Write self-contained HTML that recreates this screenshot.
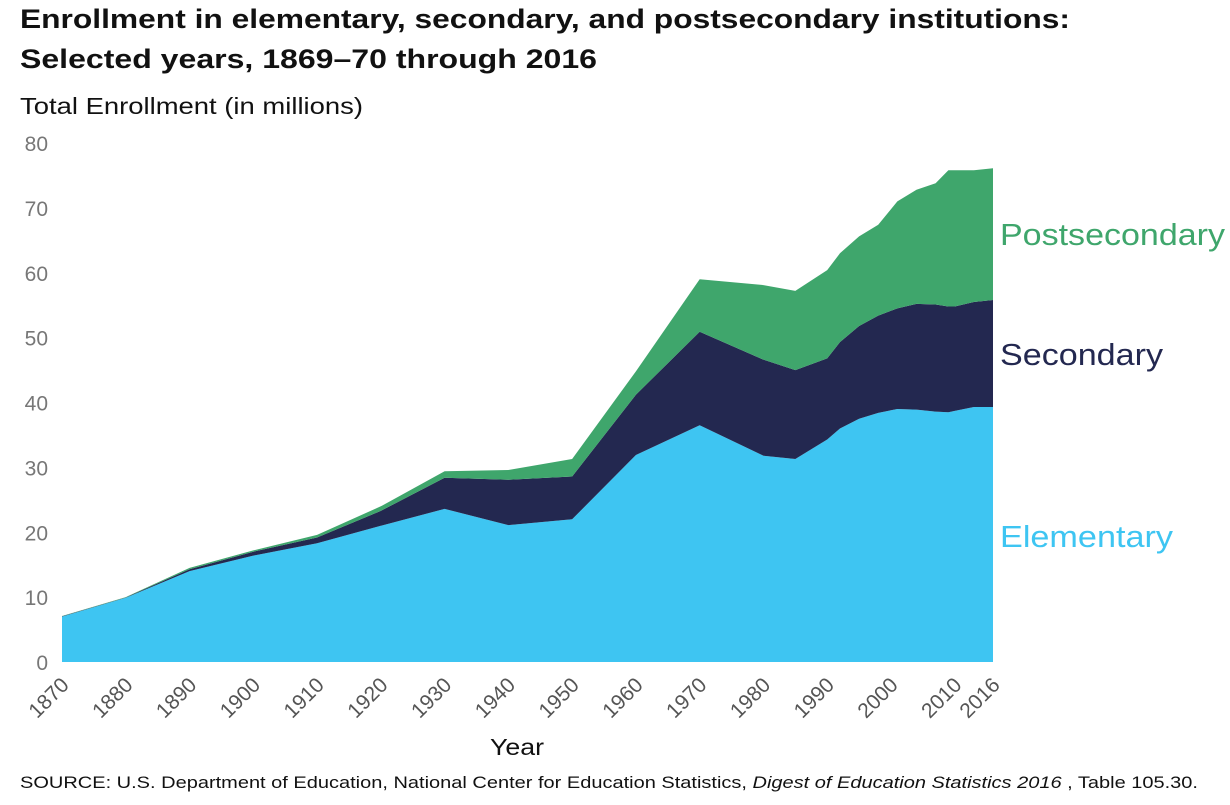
<!DOCTYPE html>
<html><head><meta charset="utf-8"><style>
body{margin:0;background:#fff;width:1230px;height:800px;overflow:hidden;font-family:"Liberation Sans",sans-serif}
svg text{font-family:"Liberation Sans",sans-serif}
</style></head><body>
<svg id="chart" width="1230" height="800">
<text x="20" y="28" font-size="27" font-weight="bold" fill="#111" textLength="1050" lengthAdjust="spacingAndGlyphs">Enrollment in elementary, secondary, and postsecondary institutions:</text>
<text x="20" y="68" font-size="27" font-weight="bold" fill="#111" textLength="577" lengthAdjust="spacingAndGlyphs">Selected years, 1869–70 through 2016</text>
<text x="20" y="114" font-size="23" fill="#111" textLength="343" lengthAdjust="spacingAndGlyphs">Total Enrollment (in millions)</text>
<g id="yticks"></g><g id="areas"></g><g id="xticks"></g>
<text x="490" y="755" font-size="23" fill="#111" textLength="54" lengthAdjust="spacingAndGlyphs">Year</text>
<text x="1000" y="245" font-size="31" fill="#3fa66c" textLength="225" lengthAdjust="spacingAndGlyphs">Postsecondary</text>
<text x="1000" y="365" font-size="31" fill="#232850" textLength="163" lengthAdjust="spacingAndGlyphs">Secondary</text>
<text x="1000" y="547" font-size="31" fill="#3ec5f2" textLength="173" lengthAdjust="spacingAndGlyphs">Elementary</text>
<text x="20" y="788" font-size="17" fill="#111" textLength="1178" lengthAdjust="spacingAndGlyphs">SOURCE: U.S. Department of Education, National Center for Education Statistics,  <tspan font-style="italic">Digest of Education Statistics 2016</tspan> , Table 105.30.</text>
</svg>
<script>
const years=[1870,1880,1890,1900,1910,1920,1930,1940,1950,1960,1970,1980,1985,1990,1992,1995,1998,2001,2004,2007,2009,2010,2013,2016];
const elementary=[7.0,9.9,14.0,16.4,18.3,21.0,23.6,21.1,22.0,31.9,36.5,31.8,31.3,34.3,36.0,37.5,38.4,39.0,38.9,38.6,38.5,38.7,39.3,39.3];
const secondary=[0.05,0.05,0.3,0.6,0.9,2.3,4.8,7.0,6.6,9.3,14.4,14.8,13.7,12.5,13.3,14.3,15.0,15.5,16.3,16.5,16.3,16.1,16.2,16.5];
const postsecondary=[0.05,0.05,0.2,0.2,0.4,0.7,1.0,1.5,2.7,3.6,8.1,11.5,12.2,13.6,13.7,13.8,14.0,16.5,17.6,18.7,21.0,21.0,20.3,20.3];
const yTicks=[0,10,20,30,40,50,60,70,80];
const xTickYears=[1870,1880,1890,1900,1910,1920,1930,1940,1950,1960,1970,1980,1990,2000,2010,2016];
const NS="http://www.w3.org/2000/svg";
const X=y=>62+(y-1870)*(993-62)/(2016-1870);
const Y=v=>662-v*(662-143)/80;
const yt=document.getElementById('yticks');
yTicks.forEach(t=>{const e=document.createElementNS(NS,'text');
e.setAttribute('x',48);e.setAttribute('y',Y(t)+8);e.setAttribute('font-size','21');e.setAttribute('fill','#777');e.setAttribute('text-anchor','end');e.textContent=t;


yt.appendChild(e);});
const xt=document.getElementById('xticks');
xTickYears.forEach(t=>{const e=document.createElementNS(NS,'text');
const x=X(t)-2,y=676;
e.setAttribute('x',x);e.setAttribute('y',y);e.setAttribute('font-size','21');e.setAttribute('fill','#555');e.setAttribute('text-anchor','end');
e.setAttribute('transform','rotate(-45 '+x+' '+y+')');e.setAttribute('dominant-baseline','hanging');e.textContent=t;


xt.appendChild(e);});
const series=[[elementary,'#3ec5f2','area-elementary'],[secondary,'#232850','area-secondary'],[postsecondary,'#3fa66c','area-postsecondary']];
const base=years.map(()=>0);
const ag=document.getElementById('areas');
series.forEach(([vals,col,name])=>{
 const top=base.map((b,i)=>b+vals[i]);
 let d='M'+years.map((y,i)=>X(y)+','+Y(top[i])).join(' L');
 for(let i=years.length-1;i>=0;i--) d+=' L'+X(years[i])+','+Y(base[i]);
 d+='Z';
 const p=document.createElementNS(NS,'path');p.setAttribute('d',d);p.setAttribute('fill',col);
 
 
 ag.appendChild(p);
 top.forEach((v,i)=>base[i]=v);
});
</script>
</body></html>
